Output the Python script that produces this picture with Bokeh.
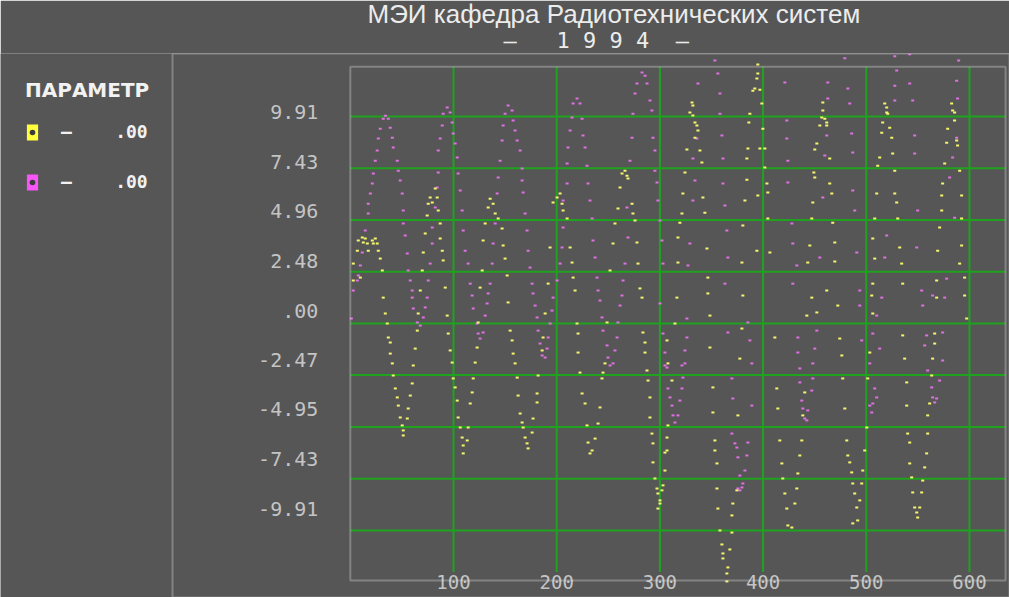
from bokeh.plotting import figure
from bokeh.models import (Range1d, LinearAxis, FixedTicker, PrintfTickFormatter, Title,
                          Legend, LegendItem, BoxAnnotation, ColumnDataSource)
from bokeh.embed import file_html
from bokeh.resources import INLINE

# ---------------- data ----------------
title_text = "МЭИ кафедра Радиотехнических систем"
subtitle_text = "–\u00a0\u00a0\u00a01\u00a09\u00a09\u00a04\u00a0\u00a0–"
legend_title = "ПАРАМЕТР"
legend_values = [".00", ".00"]

y_ticks = [9.91, 7.43, 4.96, 2.48, 0.0, -2.47, -4.95, -7.43, -9.91]
x_ticks = [100, 200, 300, 400, 500, 600]

yellow_pts = [
    (2.9,2.06),(2.9,2.87),(6.8,3.49),(7.7,3.97),(9.7,2.20),(11.6,4.12),(12.6,3.88),(14.5,4.07),(16.5,3.83),
    (17.4,3.49),(21.3,3.97),(22.3,3.83),(24.2,4.07),(26.1,3.83),(27.1,3.49),(29.0,3.11),(31.0,2.54),(31.9,1.24),
    (33.9,0.48),(35.8,0.00),(36.8,-0.67),(38.7,-0.91),(38.7,-1.44),(40.7,-1.91),(41.6,-2.49),(43.6,-3.11),
    (45.5,-3.54),(46.5,-3.93),(48.4,-4.50),(50.3,-4.88),(51.3,-5.12),(51.3,-5.36),(55.2,-4.55),(56.1,-4.07),
    (58.1,-3.45),(60.0,-2.87),(61.0,-2.01),(62.9,-1.20),(64.9,-0.34),(65.8,0.48),
    (67.8,1.58),(69.7,2.54),(70.7,3.40),(72.6,4.31),(74.5,5.17),(75.5,5.74),(77.4,6.03),(79.4,5.79),(82.3,6.46),
    (84.2,6.03),(85.2,5.41),(87.1,4.79),(87.1,4.07),(89.1,3.49),(90.0,3.02),(92.0,1.72),
    (93.9,0.38),(94.9,-0.48),(96.8,-1.29),(98.7,-1.87),(99.7,-2.63),(101.6,-3.06),(103.6,-3.69),(104.5,-4.50),
    (106.5,-4.98),(108.4,-5.46),(109.4,-5.84),(109.4,-6.22),(113.3,-5.60),(114.2,-4.98),(116.2,-3.83),
    (118.1,-3.30),(119.1,-2.63),(121.0,-1.87),(122.9,-1.15),(123.9,0.05),
    (125.8,1.72),(127.8,2.54),(128.7,3.97),(130.7,4.79),(133.6,5.55),(135.5,5.98),(138.4,5.74),(140.4,5.27),
    (143.3,5.03),(147.1,4.55),(148.1,3.73),(150.0,3.11),(152.0,2.30),
    (152.9,1.01),(154.9,-0.34),(156.8,-0.81),(157.8,-1.44),(159.7,-1.91),(161.7,-2.59),(162.6,-3.45),
    (164.6,-4.31),(166.5,-4.74),(167.5,-4.98),(169.4,-5.46),(171.3,-5.74),(172.3,-5.98),(176.2,-5.22),
    (177.1,-4.55),(181.0,-3.78),(181.0,-3.35),(182.0,-2.49),(185.9,-1.29),(186.8,-0.67),(188.8,0.48),
    (191.7,1.91),(193.6,3.64),(196.5,5.79),(200.4,6.03),(203.3,6.22),(205.2,5.74),(206.2,5.41),(210.1,5.03),
    (213.0,3.64),(214.9,2.92),(215.9,2.20),(217.8,1.58),
    (219.7,0.00),(220.7,-0.48),(220.7,-1.39),(222.6,-2.35),(224.6,-3.35),(227.5,-3.83),(229.4,-4.88),
    (230.4,-5.70),(232.3,-6.22),(234.3,-6.08),(237.2,-5.51),(240.1,-4.79),(242.0,-4.02),(243.9,-2.63),
    (244.9,-2.35),(246.8,-1.91),(248.8,0.05),(251.7,2.54),
    (254.6,3.83),(256.5,4.79),(259.4,5.51),(261.4,6.51),(263.3,7.18),(266.2,7.32),(268.1,7.08),(269.1,6.94),
    (273.0,5.74),(273.9,5.27),(275.9,4.93),(277.8,3.88),(278.8,2.87),(280.7,1.68),(282.7,1.24),
    (283.6,-0.43),(285.6,-0.91),(285.6,-1.39),(287.5,-2.25),(288.5,-2.73),(290.4,-3.54),(290.4,-4.50),
    (292.3,-5.27),(293.3,-5.74),(293.3,-6.65),(295.2,-7.42),(297.2,-7.90),(298.1,-8.14),(298.1,-8.86),
    (300.1,-8.47),(300.1,-8.62),(302.0,-7.99),(303.0,-7.75),(304.9,-7.04),(304.9,-6.18),(306.9,-6.08),
    (306.9,-5.46),(307.8,-4.88),(311.7,-2.73),(307.8,-1.91),(306.9,-0.81),(314.6,0.00),
    (316.5,1.24),(317.5,2.92),(317.5,4.12),(319.4,4.83),(321.4,5.27),(322.3,6.22),(324.3,7.23),(326.2,8.33),
    (329.1,10.10),(331.1,10.58),(332.0,10.44),(332.0,9.96),(334.0,9.62),(335.9,9.48),(336.9,9.24),(334.0,8.90),
    (338.8,8.28),(340.7,7.71),(341.7,6.03),(343.6,5.31),(345.6,3.59),(346.5,2.20),(346.5,1.44),(348.5,0.38),
    (348.5,-1.15),(351.4,-3.06),(351.4,-4.26),(353.3,-5.60),(353.3,-6.08),(355.3,-6.70),(355.3,-7.90),
    (356.2,-8.86),(358.2,-9.91),(360.1,-10.58),(361.1,-11.01),(361.1,-11.25),(364.9,-11.97),(364.9,-12.35),
    (365.9,-11.68),(367.8,-10.82),(369.8,-10.01),(369.8,-9.19),(370.7,-8.62),(374.6,-7.99),(375.6,-4.40),
    (377.5,-1.68),(379.5,-0.24),(380.4,1.34),
    (379.5,2.92),(380.4,4.69),(382.4,5.89),(384.3,6.89),(384.3,7.90),(385.3,8.38),(386.2,9.62),(387.2,10.05),
    (390.1,11.15),(392.0,11.25),(394.0,11.73),(394.9,11.97),(394.9,12.40),(396.9,11.20),(398.8,10.53),
    (399.8,9.33),(396.9,8.38),(401.7,8.38),(401.7,7.47),(403.7,6.70),(404.6,6.27),(404.6,5.03),(406.6,3.40),
    (394.0,3.49),(394.9,6.13),
    (411.4,-0.67),(413.3,-3.11),(414.3,-4.07),(416.2,-5.60),(418.2,-6.70),(419.1,-7.42),(421.1,-8.14),
    (423.0,-8.86),(424.0,-9.67),(427.9,-9.77),(430.8,-8.62),(432.7,-7.90),(433.7,-7.18),(435.6,-6.32),
    (437.5,-5.60),(438.5,-4.40),(440.4,-3.30),(442.4,0.38),(447.2,1.24),(452.1,0.53),
    (443.3,2.92),(445.3,3.73),(447.2,5.03),(448.2,5.79),(449.2,7.23),(450.1,6.99),(450.1,8.33),(452.1,8.62),
    (455.0,9.48),(456.9,9.86),(457.9,10.58),(457.9,10.20),(459.8,9.81),(461.7,9.62),(461.7,9.48),(464.6,7.90),
    (464.6,6.70),(466.6,6.22),(467.5,4.83),(469.5,3.88),(469.5,2.97),(461.7,1.58),
    (472.4,0.86),(474.3,-0.72),(476.3,-1.53),(477.2,-2.63),(479.2,-4.07),(481.1,-5.60),(482.1,-6.32),
    (484.0,-6.65),(485.9,-7.13),(486.9,-7.66),(488.8,-8.14),(490.8,-8.81),(491.7,-9.43),(486.9,-9.57),
    (493.7,-8.47),(495.6,-7.66),(496.6,-7.04),(498.5,-6.08),(500.5,-4.98),(501.4,-2.63),(503.4,-1.39),
    (506.3,0.48),(505.3,1.34),
    (506.3,1.91),(508.2,3.11),(506.3,4.07),(508.2,5.03),(510.1,6.22),(511.1,7.56),(513.0,7.95),(515.0,9.14),
    (515.9,9.62),(517.9,10.53),(519.8,10.34),(519.8,10.10),(520.8,10.05),(522.7,9.38),(524.7,8.90),
    (525.6,8.14),(527.6,7.32),(527.6,6.22),(529.5,5.79),(530.5,5.03),(532.4,3.64),(534.3,2.87),(535.3,1.91),
    (535.3,-0.57),(537.2,-1.68),(539.2,-2.82),(539.2,-3.93),(540.1,-5.27),(542.1,-5.70),(542.1,-6.70),
    (544.0,-7.37),(545.0,-8.09),(546.9,-8.81),(548.9,-9.05),(549.8,-9.29),(551.8,-8.81),(553.7,-8.09),
    (554.7,-7.52),(556.6,-6.89),(558.5,-6.22),(559.5,-5.27),(559.5,-4.40),(561.4,-3.83),(563.4,-2.49),
    (564.3,-1.68),(566.3,-0.96),(566.3,-0.48),(568.2,1.24),
    (568.2,2.06),(569.2,3.49),(571.1,4.60),(573.1,5.41),(573.1,6.13),(574.0,6.70),(576.0,7.66),(577.9,8.66),
    (578.9,9.33),(582.7,10.53),(583.7,10.20),(585.6,10.10),(585.6,9.72),(587.6,8.76),(588.5,8.52),
    (590.5,7.32),(592.4,6.13),(592.4,5.03),(592.4,3.73),(590.5,2.87),(595.3,2.20),(595.3,1.34),(597.3,0.24),
]

magenta_pts = [
    (1.0,0.24),(2.9,1.58),(6.8,2.06),(7.7,2.30),(9.7,2.78),(11.6,3.40),(14.5,4.45),(17.4,5.27),(17.4,5.74),
    (19.4,6.22),(21.3,6.70),(22.3,7.18),(24.2,7.80),(26.1,8.28),(27.1,8.86),(29.0,9.33),(31.9,9.81),
    (34.0,9.95),(36.8,9.81),(38.7,9.38),(40.7,8.90),(41.6,8.43),(45.5,7.80),(46.5,7.32),(48.4,6.85),
    (50.3,6.22),(51.3,5.41),(51.3,4.79),(53.2,4.21),(55.2,3.35),(56.1,2.54),(58.1,2.06),(60.0,1.58),
    (60.0,1.24),(61.0,0.72),(64.9,0.05),(67.8,-0.10),(70.7,0.29),(72.6,0.77),(74.5,1.24),
    (75.5,2.06),(77.4,2.87),(79.4,3.83),(79.4,4.60),(82.3,5.55),(84.2,6.51),(85.2,7.23),(85.2,8.28),
    (87.1,8.86),(89.1,9.48),(90.0,10.05),(93.9,10.34),(96.8,10.10),(98.7,9.62),(99.7,9.10),(101.6,8.62),
    (103.6,7.95),(104.5,7.18),(106.5,6.37),(108.4,5.41),(109.4,4.45),(111.3,3.49),(114.2,2.87),(116.2,1.91),
    (118.1,1.34),(119.1,0.72),(122.9,0.00),(123.9,-0.48),(125.8,-0.72),(128.7,-0.43),(130.7,0.38),
    (132.6,0.96),(133.6,1.44),
    (135.5,1.91),(137.5,2.87),(138.4,3.83),(140.4,4.79),(142.3,6.22),(143.3,6.99),(145.2,7.80),(147.1,8.76),
    (148.1,9.48),(150.0,10.05),(152.9,10.44),(156.8,10.20),(157.8,9.72),(159.7,9.24),(161.7,8.76),
    (164.6,8.28),(166.5,7.42),(166.5,6.85),(167.5,6.27),(169.4,5.27),(171.3,4.45),(172.3,3.49),(174.2,2.68),
    (176.2,1.91),(177.1,1.44),(179.1,0.86),(181.0,0.29),(182.0,-0.34),(183.9,-0.96),(185.9,-1.53),
    (188.8,-1.63),(190.7,-1.20),(191.7,-0.67),(193.6,0.00),(195.5,0.62),(196.5,1.24),
    (200.4,2.06),(203.3,2.87),(205.2,3.64),(206.2,4.60),(206.2,5.89),(210.1,6.70),(210.1,7.66),(211.0,8.43),
    (213.0,9.24),(214.9,9.86),(215.9,10.53),(219.7,10.77),(222.6,10.53),(224.6,9.81),(225.5,9.00),
    (227.5,8.43),(229.4,7.56),(230.4,6.70),(232.3,5.89),(234.3,5.03),(235.2,3.97),(237.2,3.16),(239.1,2.20),
    (240.1,1.58),(242.0,1.10),(243.9,0.29),(244.9,-0.34),(248.8,-1.05),(249.7,-1.63),(251.7,-2.01),
    (254.6,-1.91),(256.5,-1.29),(258.5,-0.67),(259.4,0.05),(261.4,0.86),(263.3,1.34),
    (264.3,2.06),(266.2,2.87),(269.1,4.12),(268.1,5.55),(271.0,7.80),(273.0,8.90),(273.9,10.05),
    (275.9,11.01),(277.8,11.49),(282.7,12.02),(285.6,11.87),(287.5,11.49),(290.4,10.68),(292.3,10.20),
    (293.3,8.90),(295.2,8.28),(295.2,7.32),(297.2,6.75),(298.1,5.89),(300.1,4.93),(302.0,3.97),(303.0,2.87),
    (300.1,0.96),
    (303.0,-0.48),(304.9,-1.39),(306.9,-2.11),(307.8,-3.11),(309.8,-3.54),(311.7,-3.93),(312.7,-4.40),
    (314.6,-4.74),(317.5,-4.40),(319.4,-3.69),(321.4,-3.11),(322.3,-2.59),(324.3,-1.91),(324.3,-1.29),
    (326.2,-0.67),(326.2,0.24),(304.9,-2.01),(321.4,-2.01),
    (327.2,2.78),(329.1,3.83),(332.0,5.89),(334.0,6.85),(332.0,7.90),(335.9,8.86),(336.9,11.49),
    (353.3,12.60),(356.2,11.97),(358.2,11.01),(358.2,10.05),(360.1,9.00),(361.1,7.90),(361.1,6.70),
    (363.0,5.65),(364.9,4.45),(365.9,3.16),(363.0,1.91),
    (365.9,-0.43),(369.8,-2.63),(370.7,-3.59),(369.8,-5.27),(372.7,-5.74),(374.6,-5.94),(375.6,-6.41),
    (377.5,-7.28),(379.5,-7.85),(377.5,-7.99),(375.6,-7.90),(380.4,-7.66),(382.4,-7.04),(384.3,-6.32),
    (385.3,-5.70),(389.1,-3.93),(389.1,-1.91),(387.2,-0.81),(385.3,0.05),
    (421.1,11.54),(423.0,9.72),(423.0,8.86),(424.0,7.80),(424.0,6.75),(427.9,4.79),(428.8,3.83),
    (432.7,2.78),(428.8,1.91),
    (433.7,-0.67),(433.7,-1.39),(435.6,-2.15),(435.6,-2.82),(437.5,-3.69),(438.5,-4.07),(440.4,-4.55),
    (442.4,-4.64),(443.3,-4.16),(447.2,-3.21),(448.2,-2.63),(448.2,-1.91),(450.1,-1.20),(452.1,-0.34),
    (455.0,3.16),(457.9,6.03),(459.8,8.04),(461.7,9.00),(462.7,10.77),(462.7,11.54),(479.2,12.70),
    (482.1,11.25),(484.0,10.53),(485.9,9.10),(486.9,8.19),(486.9,6.37),(488.8,5.41),(490.8,3.40),(493.7,1.58),
    (493.7,0.86),(495.6,-0.81),(503.4,-1.91),(506.3,-0.48),(513.0,-1.20),(508.2,-3.11),(506.3,-3.83),
    (505.3,-4.26),(503.4,-3.93),(510.1,-3.54),(510.1,0.38),(515.0,1.24),
    (517.9,3.16),(519.8,4.21),(527.6,10.68),(527.6,11.39),(529.5,12.11),(527.6,12.80),(542.1,12.90),
    (542.1,11.49),(545.0,10.68),(546.9,9.00),(546.9,8.14),(549.8,5.41),(548.9,3.64),(553.7,1.58),
    (554.7,0.86),(558.5,-0.57),(556.6,-1.05),(559.5,-2.25),(563.4,-3.06),(564.3,-3.54),(566.3,-3.78),
    (568.2,-3.59),(571.1,-2.73),(574.0,-1.77),(574.0,-0.43),(564.3,1.34),(576.0,1.24),
    (577.9,2.15),(580.8,6.99),(583.7,7.95),(585.6,5.07),(587.6,8.90),(588.5,10.77),(587.6,11.63),(589.5,12.60),
]

yellow_x = [p_[0] for p_ in yellow_pts]
yellow_y = [p_[1] for p_ in yellow_pts]
magenta_x = [p_[0] for p_ in magenta_pts]
magenta_y = [p_[1] for p_ in magenta_pts]

# ---------------- layout / style constants ----------------
BG = "#565656"
GRID = "#1fa31f"
WHITE = "#ececec"
LABEL = "#c4c4c4"
YEL = "#f6f66c"
MAG = "#e070e4"
YEL_BOX = "#ffff3c"
MAG_BOX = "#f755f7"

INNER_LEFT, INNER_RIGHT, INNER_BOTTOM, INNER_TOP = 0, 635, -12.3, 12.3
VGRID_BOTTOM = -11.9
OUTER_LEFT = -172.3

p = figure(width=1009, height=597,
           x_range=Range1d(-339.0, 638.8), y_range=Range1d(-13.12, 12.93),
           x_axis_type=None, y_axis_type=None, title=None,
           toolbar_location=None, output_backend="svg",
           min_border_left=0, min_border_right=0, min_border_bottom=0, min_border_top=53,
           background_fill_color=BG, border_fill_color=BG, outline_line_color=None)
# the DOS program printed its tick labels on a slightly compressed scale
p.extra_y_ranges = {"labels": Range1d(-14.36, 12.86)}

# titles
sub = Title(text=subtitle_text, align="left", offset=503, standoff=2,
            text_font="DejaVu Sans Mono", text_font_size="22px", text_font_style="normal",
            text_color=WHITE)
main = Title(text=title_text, align="left", offset=367, standoff=-8,
             text_font="Liberation Sans", text_font_size="26px", text_font_style="normal",
             text_color=WHITE)
p.add_layout(sub, "above")
p.add_layout(main, "above")

# grid lines (inside the inner box only)
p.segment(x0=[INNER_LEFT] * len(y_ticks), x1=[INNER_RIGHT] * len(y_ticks), y0=y_ticks, y1=y_ticks,
          line_color=GRID, line_width=2)
p.segment(x0=x_ticks, x1=x_ticks, y0=[VGRID_BOTTOM] * len(x_ticks), y1=[INNER_TOP] * len(x_ticks),
          line_color=GRID, line_width=2)

# data
ysrc = ColumnDataSource(dict(x=yellow_x, y=yellow_y))
msrc = ColumnDataSource(dict(x=magenta_x, y=magenta_y))
mr = p.rect(x="x", y="y", source=msrc, width=3, height=2, width_units="screen", height_units="screen",
            fill_color=MAG, line_color=None)
yr = p.rect(x="x", y="y", source=ysrc, width=3, height=2, width_units="screen", height_units="screen",
            fill_color=YEL, line_color=None)

# legend glyphs: zero-size on the plot, drawn only as legend swatches
ybox = p.rect(x="x", y="y", source=ysrc, width=0, height=0, width_units="screen", height_units="screen",
              fill_color=YEL_BOX, line_color=None)
ydot = p.scatter(x="x", y="y", source=ysrc, marker="circle", size=0, fill_color="#3c3c3c", line_color=None)
mbox = p.rect(x="x", y="y", source=msrc, width=0, height=0, width_units="screen", height_units="screen",
              fill_color=MAG_BOX, line_color=None)
mdot = p.scatter(x="x", y="y", source=msrc, marker="circle", size=0, fill_color="#3c3c3c", line_color=None)

# axes fixed at the inner box edges
yaxis = LinearAxis(fixed_location=INNER_LEFT, y_range_name="labels",
                   ticker=FixedTicker(ticks=y_ticks),
                   formatter=PrintfTickFormatter(format="%.2f"),
                   major_label_overrides={0: ".00"})
yaxis.axis_line_color = None
yaxis.major_tick_line_color = None
yaxis.minor_tick_line_color = None
yaxis.major_tick_in = 0
yaxis.major_tick_out = 0
yaxis.major_label_standoff = 32
yaxis.major_label_text_font = "DejaVu Sans Mono"
yaxis.major_label_text_font_size = "20px"
yaxis.major_label_text_color = LABEL
p.add_layout(yaxis, "left")

xaxis = LinearAxis(fixed_location=INNER_BOTTOM,
                   ticker=FixedTicker(ticks=x_ticks))
xaxis.axis_line_color = None
xaxis.major_tick_line_color = None
xaxis.minor_tick_line_color = None
xaxis.major_tick_in = 0
xaxis.major_tick_out = 0
xaxis.major_label_standoff = -5
xaxis.major_label_text_font = "DejaVu Sans Mono"
xaxis.major_label_text_font_size = "19px"
xaxis.major_label_text_color = LABEL
p.add_layout(xaxis, "below")

# frames
p.add_layout(BoxAnnotation(left=OUTER_LEFT, fill_alpha=0, line_color=WHITE, line_width=2))
p.add_layout(BoxAnnotation(left=INNER_LEFT, right=INNER_RIGHT, bottom=INNER_BOTTOM, top=INNER_TOP,
                           fill_alpha=0, line_color=WHITE, line_width=2))

# legend
dash_gap = "\u00a0\u00a0\u00a0\u00a0"
legend = Legend(items=[
    LegendItem(label="–" + dash_gap + legend_values[0], renderers=[ybox, ydot]),
    LegendItem(label="–" + dash_gap + legend_values[1], renderers=[mbox, mdot]),
], location="top_left", title=legend_title)
legend.margin = 25
legend.padding = 0
legend.background_fill_alpha = 0
legend.border_line_color = None
legend.title_text_font = "DejaVu Sans"
legend.title_text_font_style = "bold"
legend.title_text_font_size = "20px"
legend.title_text_color = "#f2f2f2"
legend.title_standoff = 19
legend.label_text_font = "DejaVu Sans Mono"
legend.label_text_font_style = "bold"
legend.label_text_font_size = "18px"
legend.label_text_color = "#f2f2f2"
legend.glyph_width = 14
legend.glyph_height = 20
legend.label_standoff = 22
legend.spacing = 29
p.add_layout(legend)

open("out.html", "w").write(file_html(p, INLINE))
